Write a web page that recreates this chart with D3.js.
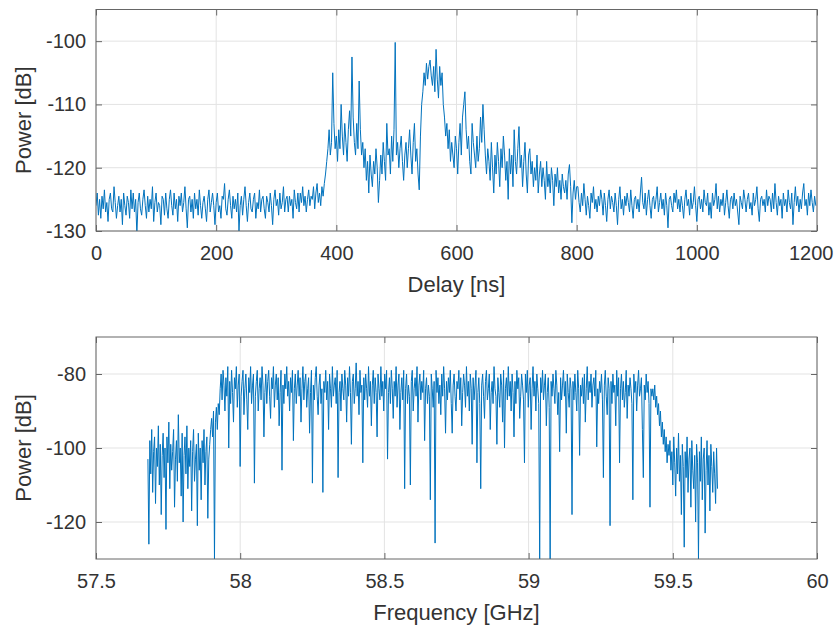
<!DOCTYPE html>
<html>
<head>
<meta charset="utf-8">
<script src="https://cdn.jsdelivr.net/npm/d3@7"></script>
<style>
  body { margin: 0; background: #fff; }
  text { font-family: "Liberation Sans", Arial, Helvetica, sans-serif; fill: #333; }
</style>
</head>
<body>
<svg id="chart" width="835" height="632"></svg>
<script>
// Power delay profile, sampled every 2 ns starting at 0 ns
const delayStart = 0;
const delayStep = 2;
const delayPower = [
  // 0 - 382 ns: noise floor
  -126,-124,-127.5,-125,-128,-124.5,-126.5,-123.5,-127,-125.5,
  -128.5,-125,-124,-126.5,-127,-123,-125.5,-128,-126,-124.5,
  -127,-125,-129,-124,-126,-127.5,-124.5,-125.5,-128,-123.5,
  -126.5,-124,-127,-125,-130.5,-125.5,-124,-126.5,-127.5,-125,
  -123.5,-126,-128,-124.5,-127,-125,-126.5,-123,-128.5,-125.5,
  -124,-127,-125.5,-126,-129,-124.5,-125,-127.5,-124,-126.5,
  -128,-125,-123.5,-126,-127.5,-124,-126.5,-125,-128.5,-124.5,
  -126,-124,-127,-125.5,-123,-126.5,-129.5,-125,-124.5,-127,
  -125,-128,-124,-126.5,-125,-127.5,-123.5,-126,-128,-125.5,
  -124.5,-126.5,-128.5,-125,-123.5,-127,-125.5,-124,-126,-129,
  -125.5,-124,-127,-126,-128,-124.5,-125,-122.5,-126.5,-127.5,
  -125,-123.5,-126,-128,-124.5,-126.5,-125,-127,-124,-130,
  -126,-124.5,-127.5,-125,-123,-126,-128.5,-125.5,-124,-126.5,
  -127,-125,-124,-128,-125.5,-126.5,-123.5,-127,-125,-124.5,
  -126.5,-128,-124.5,-125.5,-127,-124,-126,-129,-125,-123.5,
  -126,-125,-127.5,-124,-126.5,-125.5,-123,-127,-125,-124.5,
  -127,-124.5,-126,-125,-128,-123.5,-125.5,-126.5,-124,-127,
  -124,-125.5,-123,-126,-124.5,-127,-125,-123.5,-126,-124.5,
  -125,-123,-126.5,-124,-122.5,-125.5,-124,-126,-123,-124.5,
  -122.5,-121,
  // 384 - 800 ns: multipath clusters
  -119,-117,-114,-118,-116,-105,-113,-117,-115,-119,
  -114,-117,-110,-115,-118,-113,-116,-119,-114,-111,
  -115,-102.5,-112,-116,-118,-113,-117,-106.3,-114,-118,
  -116,-120,-117,-122,-119,-124,-118,-121,-123,-119,
  -121,-117,-120,-125.5,-122,-118,-121,-116,-119,-122,
  -113,-118,-117,-121,-115,-119,-114,-100.2,-118,-116,
  -120,-117,-115,-119,-122,-118,-116,-120,-117,-114,
  -118,-121,-116,-113,-119,-117,-121,-123.5,-115,-110,
  -108,-105,-107,-103.5,-106,-104,-103,-105.5,-107,-104,
  -108,-101.3,-106,-109,-104,-107,-105,-110,-112,-115,
  -113,-117,-114,-119,-116,-118,-120,-115,-117,-121,
  -116,-113,-118,-112,-110,-108,-114,-117,-115,-119,
  -121,-113,-116,-118,-120,-115,-119,-117,-112,-116,
  -110,-114,-118,-121,-117,-119,-122,-116,-120,-124,
  -118,-121,-116,-119,-123,-117,-120,-115,-118,-122,
  -119,-125,-117,-121,-118,-123,-114,-119,-121,-117,
  -113.5,-120,-118,-123,-119,-116,-121,-124,-118,-117,
  -121,-119,-123,-120,-122,-118,-124,-121,-119,-123,
  -120,-122,-125,-119,-123,-121,-124,-120,-122,-126,
  -121,-123,-120,-124,-122,-125,-121,-123,-124,-122,
  -125,-121,-119.5,-123,-128.7,-124,-122,-125,-123,
  // 802 - 1198 ns: noise floor
  -123,-125.5,-127,-124,-126,-122.5,-125,-127.5,-124.5,-126,
  -128,-124,-125.5,-123,-126.5,-125,-127,-124.5,-126,-123.5,
  -125,-127.5,-124,-126,-128.5,-125,-123.5,-126.5,-124.5,-125.5,
  -127,-124,-126,-129,-125,-123,-126.5,-125,-127.5,-124.5,
  -126,-124,-125.5,-127,-123.5,-126,-128,-125,-124.5,-126.5,
  -125,-127,-124,-121.5,-125.5,-126.5,-124,-127.5,-125,-123.5,
  -126,-128,-125,-124.5,-126.5,-125,-123,-127,-125.5,-124,
  -126.5,-125,-127.5,-124,-126,-129.5,-125,-124.5,-126,-127,
  -124,-125.5,-123.5,-126.5,-125,-127,-124.5,-126,-128,-125,
  -123.5,-126,-125,-127.5,-124,-126.5,-125.5,-123,-126,-128.5,
  -125,-124.5,-126.5,-125,-127,-123.5,-125.5,-126,-124,-127.5,
  -125.5,-128,-124,-126,-125,-122.5,-126.5,-124.5,-127,-125,
  -126,-124,-127.5,-125.5,-123.5,-126,-128,-125,-124.5,-126.5,
  -124,-126,-125,-127,-129,-124.5,-125.5,-126.5,-123.5,-125,
  -127,-125,-124,-126.5,-125.5,-127.5,-124,-126,-125,-123,
  -126.5,-128.5,-125,-124.5,-126,-125,-127,-123.5,-126,-124.5,
  -125,-127,-124,-126.5,-122.5,-125.5,-127.5,-124.5,-126,-125,
  -128,-124,-126,-125,-127,-123.5,-125.5,-126.5,-124,-129,
  -125.5,-123,-126,-124.5,-127,-125,-126.5,-124,-122.5,-126,
  -125,-127.5,-124,-126,-123.5,-125.5,-127,-124.5,-126
];

// Channel frequency response, evenly spaced between these two frequencies (GHz)
const freqStart = 57.68;
const freqEnd = 59.655;
const freqPower = [
  // lower guard region
  -103,-126,-98,-107,-95,-112,-101,-97,-115,-100,
  -105,-94,-110,-99,-118,-102,-96,-108,-100,-122,
  -97,-104,-93,-111,-99,-106,-101,-95,-116,-103,
  -98,-109,-91,-104,-100,-113,-96,-120,-102,-97,
  -107,-94,-111,-100,-105,-98,-117,-101,-95,-109,
  -103,-99,-121,-96,-106,-100,-114,-98,-104,-95,
  -110,-101,-97,-119,-103,-99,
  // band edge
  -95,-92,-97,-90,-130,-93,-89,-95,-88,-91,
  // occupied band
  -84,-80,-87,-79,-83,-90,-81,-86,-78,-100,
  -82,-88,-79,-85,-93,-81,-84,-78,-89,-83,
  -80,-105,-86,-82,-79,-91,-84,-80,-87,-95,
  -81,-85,-78,-88,-83,-80,-109.5,-86,-82,-79,
  -90,-84,-81,-87,-78,-83,-97,-85,-80,-88,
  -82,-79,-86,-92,-81,-84,-78,-89,-83,-80,
  -87,-81,-94,-85,-79,-106,-83,-88,-80,-84,
  -78,-86,-82,-90,-81,-85,-79,-98,-84,-80,
  -88,-83,-79,-86,-81,-93,-84,-78,-87,-82,
  -80,-89,-84,-81,-96,-85,-79,-109.5,-83,-87,
  -81,-78,-86,-91,-83,-80,-88,-84,-112,-82,
  -85,-79,-87,-82,-95,-80,-84,-89,-78,-86,
  -83,-81,-88,-79,-108,-85,-82,-90,-80,-84,
  -87,-79,-83,-93,-81,-86,-78,-85,-99,-82,
  -80,-88,-84,-77,-86,-82,-91,-79,-85,-83,
  -104,-81,-87,-80,-84,-89,-78,-86,-82,-94,
  -83,-79,-88,-81,-85,-97,-80,-84,-87,-78,
  -86,-82,-90,-80,-84,-79,-103,-85,-81,-88,
  -79,-84,-92,-82,-86,-78,-89,-83,-80,-95,
  -85,-81,-87,-79,-111,-84,-80,-88,-83,-86,
  -110,-82,-79,-90,-84,-81,-86,-78,-93,-83,
  -80,-87,-82,-85,-79,-98,-84,-81,-88,-83,
  -86,-114,-80,-84,-89,-82,-125.7,-79,-85,-81,
  -88,-83,-91,-80,-86,-78,-84,-96,-82,-87,
  -81,-85,-79,-88,-96,-83,-80,-86,-90,-82,
  -84,-79,-87,-81,-94,-85,-80,-83,-89,-78,
  -86,-82,-90,-80,-84,-99,-81,-87,-83,-79,
  -104,-85,-81,-88,-111,-83,-80,-86,-92,-82,
  -79,-87,-84,-80,-95,-85,-82,-88,-78,-84,
  -86,-99,-81,-85,-89,-80,-83,-93,-79,-100,
  -84,-81,-87,-78,-86,-82,-90,-80,-85,-97,
  -82,-88,-79,-84,-81,-92,-86,-80,-83,-87,
  -104,-80,-85,-79,-89,-83,-81,-95,-84,-78,
  -86,-82,-90,-80,-84,-88,-131,-81,-85,-79,
  -87,-83,-80,-94,-85,-81,-89,-131,-82,-86,
  -80,-84,-88,-79,-83,-91,-85,-101,-81,-87,
  -83,-79,-86,-82,-96,-80,-85,-89,-81,-84,
  -118,-82,-87,-80,-85,-90,-79,-84,-102,-83,
  -86,-81,-88,-80,-93,-84,-78,-87,-82,-85,
  -80,-89,-83,-81,-86,-79,-99.7,-84,-88,-82,
  -85,-80,-87,-108,-83,-79,-86,-91,-81,-84,
  -121,-82,-88,-80,-85,-83,-94,-79,-86,-81,
  -104,-84,-80,-87,-82,-89,-85,-79,-92,-83,
  -86,-81,-84,-88,-114,-80,-85,-82,-90,-83,
  -79,-86,-84,-81,-95,-108,-83,-87,-80,-85,
  -82,-88,-116,-84,-86,
  // upper band edge roll-off
  -84,-87,-83,-89,-86,-91,-88,-94,-90,-97,-93,-99,-95,-101,-97,-104,-99,-102,
  // upper guard region
  -98,-106,-101,-110,-97,-104,-113,-100,-107,-96,
  -109,-102,-118,-99,-105,-126.8,-101,-108,-97,-112,
  -103,-100,-116,-98,-106,-111,-102,-120,-99,-104,
  -130,-101,-109,-97,-114,-103,-100,-123,-106,-98,
  -110,-102,-117,-99,-105,-112,-101,-107,-115,-100,
  -111
];

// Axis ranges and tick labels
const delayDomain = [0, 1200];
const delayTicks = [0, 200, 400, 600, 800, 1000, 1200];
const delayPowerDomain = [-130, -95];
const delayPowerTicks = [-130, -120, -110, -100];
const freqDomain = [57.5, 60];
const freqTicks = [57.5, 58, 58.5, 59, 59.5, 60];
const freqPowerDomain = [-130, -70];
const freqPowerTicks = [-120, -100, -80];

const width = 835;
const svg = d3.select("#chart");
const lineColor = "#0072BD";

function drawPanel(opts) {
  const { id, box, xDomain, yDomain, xTicks, yTicks, xs, ys, xLabel, yLabel } = opts;
  const x = d3.scaleLinear().domain(xDomain).range([box.left, box.right]);
  const y = d3.scaleLinear().domain(yDomain).range([box.bottom, box.top]);
  const g = svg.append("g");

  g.append("clipPath").attr("id", "clip-" + id)
    .append("rect")
    .attr("x", box.left).attr("y", box.top)
    .attr("width", box.right - box.left).attr("height", box.bottom - box.top);

  // grid
  g.append("g").selectAll("line").data(xTicks).join("line")
    .attr("x1", d => x(d)).attr("x2", d => x(d))
    .attr("y1", box.top).attr("y2", box.bottom)
    .attr("stroke", "#e3e3e3").attr("stroke-width", 1);
  g.append("g").selectAll("line").data(yTicks).join("line")
    .attr("x1", box.left).attr("x2", box.right)
    .attr("y1", d => y(d)).attr("y2", d => y(d))
    .attr("stroke", "#e3e3e3").attr("stroke-width", 1);

  // trace
  const line = d3.line()
    .x((d, i) => x(xs(i)))
    .y(d => y(d));
  g.append("path")
    .datum(ys)
    .attr("clip-path", "url(#clip-" + id + ")")
    .attr("fill", "none")
    .attr("stroke", lineColor)
    .attr("stroke-width", 1)
    .attr("stroke-linejoin", "round")
    .attr("d", line);

  // axes with inward ticks on all four sides
  const fmt = d => String(d);
  const axB = g.append("g").attr("transform", `translate(0,${box.bottom})`)
    .call(d3.axisBottom(x).tickValues(xTicks).tickFormat(fmt).tickSizeInner(-6).tickSizeOuter(0).tickPadding(15));
  const axT = g.append("g").attr("transform", `translate(0,${box.top})`)
    .call(d3.axisTop(x).tickValues(xTicks).tickFormat("").tickSizeInner(-6).tickSizeOuter(0));
  const axL = g.append("g").attr("transform", `translate(${box.left},0)`)
    .call(d3.axisLeft(y).tickValues(yTicks).tickFormat(fmt).tickSizeInner(-6).tickSizeOuter(0).tickPadding(10));
  const axR = g.append("g").attr("transform", `translate(${box.right},0)`)
    .call(d3.axisRight(y).tickValues(yTicks).tickFormat("").tickSizeInner(-6).tickSizeOuter(0));
  [axB, axT, axL, axR].forEach(a => {
    a.select(".domain").remove();
    a.selectAll(".tick line").attr("stroke", "#666");
    a.selectAll(".tick text")
      .attr("fill", "#333")
      .style("font-family", '"Liberation Sans", Arial, sans-serif')
      .style("font-size", "20px");
  });

  // keep the rightmost tick label inside the page
  axB.selectAll(".tick text").each(function (d) {
    const bb = this.getBBox();
    const right = x(d) + bb.x + bb.width;
    if (right > width - 2) d3.select(this).attr("x", (width - 2) - right);
  });

  // box
  g.append("rect")
    .attr("x", box.left).attr("y", box.top)
    .attr("width", box.right - box.left).attr("height", box.bottom - box.top)
    .attr("fill", "none").attr("stroke", "#666").attr("stroke-width", 1);

  g.append("text")
    .attr("x", (box.left + box.right) / 2)
    .attr("y", box.bottom + 61)
    .attr("text-anchor", "middle")
    .style("font-size", "22px")
    .text(xLabel);
  g.append("text")
    .attr("transform", `translate(31,${(box.top + box.bottom) / 2}) rotate(-90)`)
    .attr("text-anchor", "middle")
    .style("font-size", "22px")
    .text(yLabel);
}

drawPanel({
  id: "delay",
  box: { left: 96, right: 817, top: 9.5, bottom: 231 },
  xDomain: delayDomain, yDomain: delayPowerDomain,
  xTicks: delayTicks, yTicks: delayPowerTicks,
  xs: i => delayStart + i * delayStep,
  ys: delayPower,
  xLabel: "Delay [ns]", yLabel: "Power [dB]"
});

drawPanel({
  id: "freq",
  box: { left: 96, right: 817, top: 337, bottom: 559 },
  xDomain: freqDomain, yDomain: freqPowerDomain,
  xTicks: freqTicks, yTicks: freqPowerTicks,
  xs: i => freqStart + i * (freqEnd - freqStart) / (freqPower.length - 1),
  ys: freqPower,
  xLabel: "Frequency [GHz]", yLabel: "Power [dB]"
});
</script>
</body>
</html>
